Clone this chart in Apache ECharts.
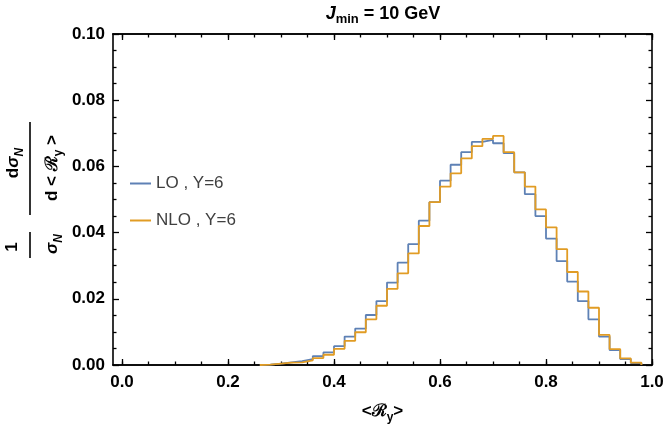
<!DOCTYPE html>
<html>
<head>
<meta charset="utf-8">
<script src="https://cdn.jsdelivr.net/npm/echarts@6/dist/echarts.min.js"></script>
<style>
  html, body { margin: 0; padding: 0; background: #fff; }
  #chart { width: 664px; height: 426px; }
</style>
</head>
<body>
<div id="chart"></div>
<script>
// histogram bins: 0.02 wide, first non-empty bin starts at 0.26
const binStart = 0.26
const binWidth = 0.02
const loValues = [
  0.0001, 0.0004, 0.0008, 0.0012, 0.0018, 0.0027, 0.0038, 0.0057, 0.0086, 0.0110,
  0.0151, 0.0193, 0.0249, 0.0309, 0.0365, 0.0436, 0.0492, 0.0557, 0.0605, 0.0643,
  0.0674, 0.0680, 0.0670, 0.0640, 0.0582, 0.0516, 0.0450, 0.0382, 0.0314, 0.0252,
  0.0193, 0.0138, 0.0086, 0.0045, 0.0018, 0.0006
]
const nloValues = [
  0.0001, 0.0004, 0.0007, 0.0008, 0.0014, 0.0021, 0.0031, 0.0049, 0.0073, 0.0099,
  0.0138, 0.0179, 0.0230, 0.0277, 0.0337, 0.0420, 0.0492, 0.0539, 0.0579, 0.0624,
  0.0661, 0.0683, 0.0692, 0.0643, 0.0582, 0.0539, 0.0470, 0.0416, 0.0350, 0.0281,
  0.0222, 0.0173, 0.0091, 0.0048, 0.0020, 0.0007
]
const seriesNames = ['LO , Y=6', 'NLO , Y=6']
const xMajorTicks = [0, 0.2, 0.4, 0.6, 0.8, 1.0]
const xMinorTicks = [0, 0.05, 0.1, 0.15, 0.2, 0.25, 0.3, 0.35, 0.4, 0.45, 0.5,
  0.55, 0.6, 0.65, 0.7, 0.75, 0.8, 0.85, 0.9, 0.95, 1.0]

const xMin = -0.017
const xMax = 1.0
const labelFont = 'Liberation Sans, Arial, sans-serif'

// turn bin heights into step-line points (left edge of each bin)
function toSteps(values) {
  let pts = [[binStart, 0]]
  values.forEach((v, i) => {
    pts.push([+(binStart + i * binWidth).toFixed(4), v])
  })
  pts.push([+(binStart + values.length * binWidth).toFixed(4), 0])
  return pts
}

function xAxisCfg(pos, ticks, len, withLabels) {
  return {
    type: 'value',
    position: pos,
    min: xMin,
    max: xMax,
    axisLine: { show: true, onZero: false, lineStyle: { color: '#000', width: 1.6 } },
    axisTick: { show: true, inside: true, length: len, customValues: ticks, lineStyle: { color: '#000', width: 1.3 } },
    axisLabel: withLabels ? {
      show: true,
      customValues: xMajorTicks,
      formatter: v => v.toFixed(1),
      color: '#000',
      fontFamily: labelFont,
      fontWeight: 'bold',
      fontSize: 17,
      margin: 9
    } : { show: false },
    splitLine: { show: false }
  }
}

function yAxisCfg(pos, withLabels) {
  return {
    type: 'value',
    position: pos,
    min: 0,
    max: 0.1,
    interval: 0.02,
    axisLine: { show: true, onZero: false, lineStyle: { color: '#000', width: 1.6 } },
    axisTick: { show: true, inside: true, length: 6, lineStyle: { color: '#000', width: 1.3 } },
    minorTick: { show: true, splitNumber: 4, length: 3.5, lineStyle: { color: '#000', width: 1.3 } },
    axisLabel: withLabels ? {
      show: true,
      formatter: v => v.toFixed(2),
      color: '#000',
      fontFamily: labelFont,
      fontWeight: 'bold',
      fontSize: 17,
      margin: 8
    } : { show: false },
    splitLine: { show: false }
  }
}

let myChart = echarts.init(document.getElementById('chart'), null, { renderer: 'canvas' })

let bottomMajor = xAxisCfg('bottom', xMajorTicks, 6, true)
bottomMajor.name = '{t|<ℛ}{s|y}{t|>}'
bottomMajor.nameLocation = 'middle'
bottomMajor.nameGap = 33
bottomMajor.nameTextStyle = {
  rich: {
    t: { fontFamily: labelFont, fontWeight: 'bold', fontSize: 17, color: '#000', lineHeight: 22, verticalAlign: 'bottom' },
    s: { fontFamily: labelFont, fontWeight: 'bold', fontSize: 12, color: '#000', lineHeight: 14, verticalAlign: 'bottom', padding: [0, 0, -4, 0] }
  }
}

let option = {
  animation: false,
  backgroundColor: '#fff',
  color: ['#5e81b5', '#e19c24'],
  grid: { left: 113, right: 12, top: 34, bottom: 61, containLabel: false, outerBoundsMode: 'none' },
  legend: {
    data: seriesNames.map(n => ({ name: n, icon: 'rect' })),
    orient: 'vertical',
    left: 125,
    top: 170,
    itemWidth: 21,
    itemHeight: 2,
    itemGap: 20,
    textStyle: { fontFamily: labelFont, fontSize: 17, color: '#404040' }
  },
  xAxis: [
    bottomMajor,
    xAxisCfg('bottom', xMinorTicks, 3.5, false),
    xAxisCfg('top', xMajorTicks, 6, false),
    xAxisCfg('top', xMinorTicks, 3.5, false)
  ],
  yAxis: [
    yAxisCfg('left', true),
    yAxisCfg('right', false)
  ],
  graphic: [
    // plot title
    {
      type: 'text', x: 383, y: 13,
      style: {
        text: '{i|J}{s|min}{t| = 10 GeV}',
        align: 'center', verticalAlign: 'middle',
        rich: {
          i: { fontFamily: labelFont, fontWeight: 'bold', fontStyle: 'italic', fontSize: 18, fill: '#000', lineHeight: 20, verticalAlign: 'bottom' },
          s: { fontFamily: labelFont, fontWeight: 'bold', fontSize: 13, fill: '#000', lineHeight: 12, verticalAlign: 'bottom', padding: [0, 0, -3, 0] },
          t: { fontFamily: labelFont, fontWeight: 'bold', fontSize: 18, fill: '#000', lineHeight: 20, verticalAlign: 'bottom' }
        }
      }
    },
    // rotated y axis title: (1 / sigma_N) (d sigma_N / d <R_y>)
    {
      type: 'text', x: 12, y: 247, rotation: Math.PI / 2,
      style: { text: '1', fontFamily: labelFont, fontWeight: 'bold', fontSize: 17, fill: '#000', align: 'center', verticalAlign: 'middle' }
    },
    {
      type: 'text', x: 12, y: 163, rotation: Math.PI / 2,
      style: {
        text: '{t|d}{g|σ}{s|N}',
        align: 'center', verticalAlign: 'middle',
        rich: {
          t: { fontFamily: labelFont, fontWeight: 'bold', fontSize: 17, fill: '#000', lineHeight: 20, verticalAlign: 'bottom' },
          g: { fontFamily: labelFont, fontWeight: 'bold', fontStyle: 'italic', fontSize: 17, fill: '#000', lineHeight: 20, verticalAlign: 'bottom' },
          s: { fontFamily: labelFont, fontWeight: 'bold', fontStyle: 'italic', fontSize: 12, fill: '#000', lineHeight: 12, verticalAlign: 'bottom', padding: [0, 0, -4, 0] }
        }
      }
    },
    {
      type: 'line', shape: { x1: 30, y1: 232, x2: 30, y2: 258 },
      style: { stroke: '#000', lineWidth: 1.6 }
    },
    {
      type: 'line', shape: { x1: 30, y1: 122, x2: 30, y2: 215 },
      style: { stroke: '#000', lineWidth: 1.6 }
    },
    {
      type: 'text', x: 51, y: 244, rotation: Math.PI / 2,
      style: {
        text: '{g|σ}{s|N}',
        align: 'center', verticalAlign: 'middle',
        rich: {
          g: { fontFamily: labelFont, fontWeight: 'bold', fontStyle: 'italic', fontSize: 17, fill: '#000', lineHeight: 20, verticalAlign: 'bottom' },
          s: { fontFamily: labelFont, fontWeight: 'bold', fontStyle: 'italic', fontSize: 12, fill: '#000', lineHeight: 12, verticalAlign: 'bottom', padding: [0, 0, -4, 0] }
        }
      }
    },
    {
      type: 'text', x: 51, y: 168, rotation: Math.PI / 2,
      style: {
        text: '{t|d < ℛ}{s|y}{t| >}',
        align: 'center', verticalAlign: 'middle',
        rich: {
          t: { fontFamily: labelFont, fontWeight: 'bold', fontSize: 17, fill: '#000', lineHeight: 20, verticalAlign: 'bottom' },
          s: { fontFamily: labelFont, fontWeight: 'bold', fontSize: 12, fill: '#000', lineHeight: 12, verticalAlign: 'bottom', padding: [0, 0, -4, 0] }
        }
      }
    }
  ],
  series: [
    {
      name: seriesNames[0],
      type: 'line',
      step: 'end',
      symbol: 'none',
      xAxisIndex: 0,
      yAxisIndex: 0,
      lineStyle: { width: 1.8, color: '#5e81b5' },
      data: toSteps(loValues)
    },
    {
      name: seriesNames[1],
      type: 'line',
      step: 'end',
      symbol: 'none',
      xAxisIndex: 0,
      yAxisIndex: 0,
      lineStyle: { width: 1.8, color: '#e19c24' },
      data: toSteps(nloValues)
    }
  ]
}
myChart.setOption(option)
</script>
</body>
</html>
